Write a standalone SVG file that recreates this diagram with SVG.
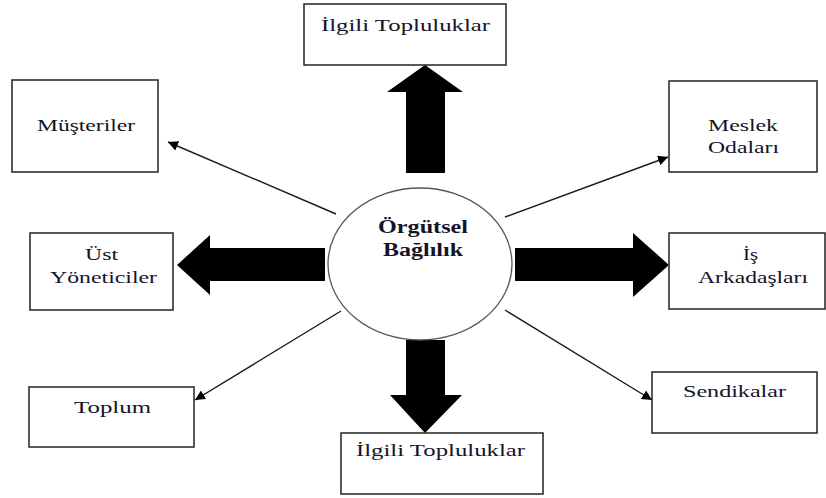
<svg xmlns="http://www.w3.org/2000/svg" width="826" height="498" viewBox="0 0 826 498">
<defs>
<style>
.box{fill:#fff;stroke:#222;stroke-width:1.5}
.t{font-family:"Liberation Serif","Times New Roman",serif;font-size:16px;fill:#141428}
.tb{font-family:"Liberation Serif","Times New Roman",serif;font-size:18px;font-weight:bold;fill:#141428}
.ln{stroke:#1a1a1a;stroke-width:1.4;fill:none;marker-end:url(#ah)}
.big{fill:#000}
</style>
<marker id="ah" viewBox="0 0 10 10" refX="10" refY="5" markerWidth="10" markerHeight="10" markerUnits="userSpaceOnUse" orient="auto">
<path d="M0,0 L10,5 L0,10 z" fill="#000"/>
</marker>
</defs>
<rect width="826" height="498" fill="#fff"/>
<g id="connectors">
<line class="ln" x1="336" y1="214" x2="168" y2="142"/>
<line class="ln" x1="505" y1="217" x2="668" y2="157"/>
<line class="ln" x1="341" y1="311" x2="195" y2="400"/>
<line class="ln" x1="505" y1="310" x2="652" y2="400"/>
<polygon class="big" points="406,173 406,92 387,92 425,65 463,92 445,92 445,173"/>
<polygon class="big" points="406,340 406,395 390,395 425,433 462,395 445,395 445,340"/>
<polygon class="big" points="325,248 210,248 210,235 177,265 210,295 210,281 325,281"/>
<polygon class="big" points="515,248 633,248 633,233 669,265 633,297 633,281 515,281"/>
</g>
<g id="center">
<ellipse cx="420" cy="264" rx="92" ry="76" fill="#fff" stroke="#555" stroke-width="1.3"/>
<text class="tb" x="378" y="233" textLength="90" lengthAdjust="spacingAndGlyphs">Örgütsel</text>
<text class="tb" x="383" y="256" textLength="80" lengthAdjust="spacingAndGlyphs">Bağlılık</text>
</g>
<g id="ilgili-top">
<rect class="box" x="304" y="4" width="202" height="61"/>
<text class="t" x="321" y="31" textLength="169" lengthAdjust="spacingAndGlyphs">İlgili Topluluklar</text>
</g>
<g id="musteriler">
<rect class="box" x="12" y="80" width="146" height="92"/>
<text class="t" x="37" y="131" textLength="98" lengthAdjust="spacingAndGlyphs">Müşteriler</text>
</g>
<g id="meslek">
<rect class="box" x="669" y="81" width="148" height="91"/>
<text class="t" x="708" y="131" textLength="70" lengthAdjust="spacingAndGlyphs">Meslek</text>
<text class="t" x="708" y="153" textLength="71" lengthAdjust="spacingAndGlyphs">Odaları</text>
</g>
<g id="ust">
<rect class="box" x="30" y="233" width="143" height="77"/>
<text class="t" x="85" y="260" textLength="33" lengthAdjust="spacingAndGlyphs">Üst</text>
<text class="t" x="50" y="283" textLength="107" lengthAdjust="spacingAndGlyphs">Yöneticiler</text>
</g>
<g id="is">
<rect class="box" x="669" y="233" width="156" height="76"/>
<text class="t" x="743" y="260" textLength="15" lengthAdjust="spacingAndGlyphs">İş</text>
<text class="t" x="698" y="283" textLength="110" lengthAdjust="spacingAndGlyphs">Arkadaşları</text>
</g>
<g id="toplum">
<rect class="box" x="29" y="387" width="165" height="60"/>
<text class="t" x="74" y="413" textLength="77" lengthAdjust="spacingAndGlyphs">Toplum</text>
</g>
<g id="sendikalar">
<rect class="box" x="652" y="372" width="165" height="61"/>
<text class="t" x="683" y="397" textLength="103" lengthAdjust="spacingAndGlyphs">Sendikalar</text>
</g>
<g id="ilgili-bottom">
<rect class="box" x="341" y="433" width="202" height="61"/>
<text class="t" x="356" y="456" textLength="169" lengthAdjust="spacingAndGlyphs">İlgili Topluluklar</text>
</g>
</svg>
